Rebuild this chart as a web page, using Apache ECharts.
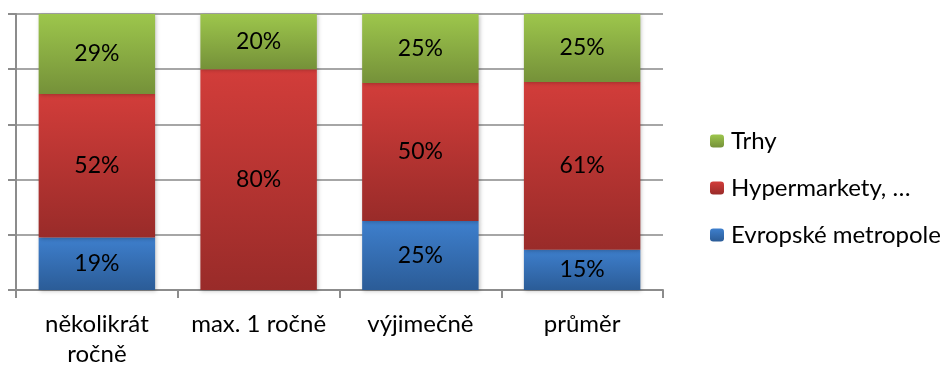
<!DOCTYPE html>
<html>
<head>
<meta charset="utf-8">
<script src="https://cdn.jsdelivr.net/npm/echarts@6/dist/echarts.min.js"></script>
<style>
  html, body { margin: 0; padding: 0; background: #fff; }
  #chart { width: 945px; height: 365px; }
</style>
</head>
<body>
<div id="chart"></div>
<script>
const categories = ["několikrát ročně", "max. 1 ročně", "výjimečně", "průměr"];
const metropole = [19, 0, 25, 14.6];
const hypermarkety = [52, 80, 50, 60.8];
const trhy = [29, 20, 25, 24.6];
const legendNames = ["Trhy", "Hypermarkety, …", "Evropské metropole"];

const font = "Lato";

function grad(top, bottom) {
  return new echarts.graphic.LinearGradient(0, 0, 0, 1, [
    { offset: 0, color: top },
    { offset: 1, color: bottom }
  ]);
}

function series(name, data, top, bottom) {
  return {
    name: name,
    type: "bar",
    stack: "all",
    barWidth: "72%",
    data: data,
    itemStyle: {
      color: grad(top, bottom),
      shadowColor: "rgba(0,0,0,0.25)",
      shadowBlur: 4,
      shadowOffsetX: 1,
      shadowOffsetY: 1
    },
    label: {
      show: true,
      position: "inside",
      color: "#000",
      fontFamily: font,
      fontSize: 23,
      formatter: p => p.value > 0 ? Math.round(p.value) + "%" : ""
    }
  };
}

const chart = echarts.init(document.getElementById("chart"));
chart.setOption({
  animation: false,
  grid: { left: 16, right: 282, top: 14, bottom: 75, outerBoundsMode: "none" },
  legend: {
    data: legendNames,
    orient: "vertical",
    left: 705,
    top: 124,
    itemGap: 23,
    itemWidth: 14,
    itemHeight: 13,
    textStyle: { fontFamily: font, fontSize: 24, color: "#000", padding: [0, 0, 0, 2] }
  },
  xAxis: {
    type: "category",
    data: categories,
    axisLine: { lineStyle: { color: "#8c8c8c", width: 2 } },
    axisTick: { show: true, length: 8, lineStyle: { color: "#8c8c8c", width: 2 } },
    axisLabel: {
      interval: 0,
      margin: 19,
      color: "#000",
      fontFamily: font,
      fontSize: 24,
      lineHeight: 30,
      // wrap the long first label like the original
      formatter: v => v.replace("několikrát ", "několikrát\n")
    }
  },
  yAxis: {
    type: "value",
    min: 0,
    max: 100,
    interval: 20,
    axisLine: { show: true, lineStyle: { color: "#8c8c8c", width: 2 } },
    axisTick: { show: true, inside: false, length: 8, lineStyle: { color: "#8c8c8c", width: 2 } },
    axisLabel: { show: false },
    splitLine: { lineStyle: { color: "#a6a6a6", width: 2 } }
  },
  series: [
    series("Evropské metropole", metropole, "#3E7FCD", "#2B5C97"),
    series("Hypermarkety, …", hypermarkety, "#D23D3A", "#992B29"),
    series("Trhy", trhy, "#9DC64C", "#759139")
  ]
});
</script>
</body>
</html>
